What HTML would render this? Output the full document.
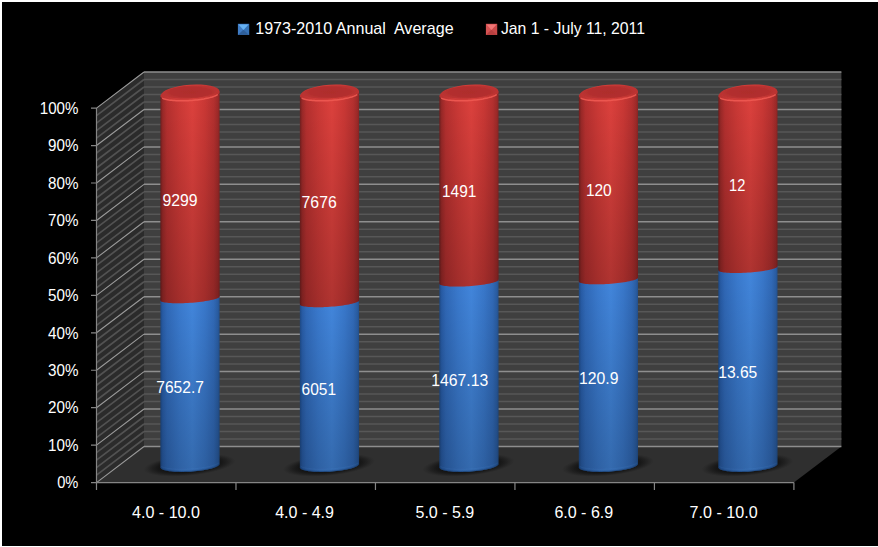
<!DOCTYPE html>
<html><head><meta charset="utf-8"><title>chart</title>
<style>
html,body{margin:0;padding:0;background:#000;}
body{width:878px;height:547px;overflow:hidden;position:relative;}
svg{position:absolute;left:0;top:0;display:block;}
text{font-family:"Liberation Sans",sans-serif;fill:#fff;}
</style></head><body>
<svg width="878" height="547" viewBox="0 0 878 547">
<defs>
<linearGradient id="gr" x1="0" x2="1" y1="0" y2="0"><stop offset="0" stop-color="#701f1f"/><stop offset="0.04" stop-color="#9a2928"/><stop offset="0.11" stop-color="#b5302f"/><stop offset="0.32" stop-color="#cc3936"/><stop offset="0.54" stop-color="#dd413d"/><stop offset="0.75" stop-color="#cb3835"/><stop offset="0.9" stop-color="#b5302f"/><stop offset="0.97" stop-color="#9e2a29"/><stop offset="1" stop-color="#882524"/></linearGradient>
<linearGradient id="gb" x1="0" x2="1" y1="0" y2="0"><stop offset="0" stop-color="#1e4a86"/><stop offset="0.04" stop-color="#285ca6"/><stop offset="0.11" stop-color="#3069b8"/><stop offset="0.32" stop-color="#3a7ace"/><stop offset="0.54" stop-color="#4286dc"/><stop offset="0.75" stop-color="#3978cb"/><stop offset="0.9" stop-color="#316ab8"/><stop offset="0.97" stop-color="#2a5da2"/><stop offset="1" stop-color="#23518e"/></linearGradient>
<linearGradient id="gv" x1="0" x2="0" y1="0" y2="1"><stop offset="0" stop-color="#000" stop-opacity="0"/><stop offset="1" stop-color="#000" stop-opacity="0.21"/></linearGradient>
<radialGradient id="gtop" cx="0.5" cy="0.5" r="0.5"><stop offset="0" stop-color="#ae2d2c"/><stop offset="0.8" stop-color="#b32f2e"/><stop offset="1" stop-color="#bb3331"/></radialGradient>
<linearGradient id="gtopo" x1="0" x2="1" y1="0" y2="0"><stop offset="0" stop-color="#b83130"/><stop offset="0.25" stop-color="#cc3a37"/><stop offset="0.6" stop-color="#d23d39"/><stop offset="1" stop-color="#b93230"/></linearGradient>
<filter id="b0" x="-20%" y="-20%" width="140%" height="140%"><feGaussianBlur stdDeviation="0.45"/></filter>
<filter id="b1" x="-10%" y="-50%" width="120%" height="200%"><feGaussianBlur stdDeviation="0.7"/></filter>
<radialGradient id="gsh" cx="0.5" cy="0.5" r="0.5"><stop offset="0" stop-color="#080808" stop-opacity="0.75"/><stop offset="0.62" stop-color="#080808" stop-opacity="0.7"/><stop offset="0.72" stop-color="#080808" stop-opacity="0.56"/><stop offset="0.82" stop-color="#080808" stop-opacity="0.36"/><stop offset="0.92" stop-color="#080808" stop-opacity="0.13"/><stop offset="1" stop-color="#080808" stop-opacity="0"/></radialGradient>
<linearGradient id="lgb" x1="0" x2="0" y1="0" y2="1"><stop offset="0" stop-color="#5b9be0"/><stop offset="1" stop-color="#2f66b3"/></linearGradient>
<linearGradient id="lgr" x1="0" x2="0" y1="0" y2="1"><stop offset="0" stop-color="#e0605c"/><stop offset="1" stop-color="#a83230"/></linearGradient>
</defs>
<rect x="0" y="0" width="878" height="2" fill="#fff"/>
<rect x="0" y="0" width="2" height="547" fill="#fff"/>
<rect x="0" y="546" width="878" height="1" fill="#fff"/>
<g id="walls">
<rect x="144" y="72" width="697.4" height="374.5" fill="#3f3f3f"/>
<polygon points="96.5,108.1 144,72 144,446.5 96.5,482.6" fill="#2b2b2b"/>
<polygon points="96.5,482.6 144,446.5 841.4,446.5 793.9,482.6" fill="#2f2f2f"/>
<path d="M144 79.49H841.4M144 86.98H841.4M144 94.47H841.4M144 101.96H841.4M144 116.94H841.4M144 124.43H841.4M144 131.92H841.4M144 139.41H841.4M144 154.39H841.4M144 161.88H841.4M144 169.37H841.4M144 176.86H841.4M144 191.84H841.4M144 199.33H841.4M144 206.82H841.4M144 214.31H841.4M144 229.29H841.4M144 236.78H841.4M144 244.27H841.4M144 251.76H841.4M144 266.74H841.4M144 274.23H841.4M144 281.72H841.4M144 289.21H841.4M144 304.19H841.4M144 311.68H841.4M144 319.17H841.4M144 326.66H841.4M144 341.64H841.4M144 349.13H841.4M144 356.62H841.4M144 364.11H841.4M144 379.09H841.4M144 386.58H841.4M144 394.07H841.4M144 401.56H841.4M144 416.54H841.4M144 424.03H841.4M144 431.52H841.4M144 439.01H841.4" stroke="#575757" stroke-width="1.5" fill="none"/>
<path d="M96.5 115.59L144 79.49M96.5 123.08L144 86.98M96.5 130.57L144 94.47M96.5 138.06L144 101.96M96.5 153.04L144 116.94M96.5 160.53L144 124.43M96.5 168.02L144 131.92M96.5 175.51L144 139.41M96.5 190.49L144 154.39M96.5 197.98L144 161.88M96.5 205.47L144 169.37M96.5 212.96L144 176.86M96.5 227.94L144 191.84M96.5 235.43L144 199.33M96.5 242.92L144 206.82M96.5 250.41L144 214.31M96.5 265.39L144 229.29M96.5 272.88L144 236.78M96.5 280.37L144 244.27M96.5 287.86L144 251.76M96.5 302.84L144 266.74M96.5 310.33L144 274.23M96.5 317.82L144 281.72M96.5 325.31L144 289.21M96.5 340.29L144 304.19M96.5 347.78L144 311.68M96.5 355.27L144 319.17M96.5 362.76L144 326.66M96.5 377.74L144 341.64M96.5 385.23L144 349.13M96.5 392.72L144 356.62M96.5 400.21L144 364.11M96.5 415.19L144 379.09M96.5 422.68L144 386.58M96.5 430.17L144 394.07M96.5 437.66L144 401.56M96.5 452.64L144 416.54M96.5 460.13L144 424.03M96.5 467.62L144 431.52M96.5 475.11L144 439.01" stroke="#525252" stroke-width="1.7" fill="none"/>
<path d="M144 72H841.4M144 109.45H841.4M144 146.9H841.4M144 184.35H841.4M144 221.8H841.4M144 259.25H841.4M144 296.7H841.4M144 334.15H841.4M144 371.6H841.4M144 409.05H841.4M144 446.5H841.4" stroke="#8e8e8e" stroke-width="1.5" fill="none"/>
<path d="M96.5 108.1L144 72M96.5 145.55L144 109.45M96.5 183L144 146.9M96.5 220.45L144 184.35M96.5 257.9L144 221.8M96.5 295.35L144 259.25M96.5 332.8L144 296.7M96.5 370.25L144 334.15M96.5 407.7L144 371.6M96.5 445.15L144 409.05M96.5 482.6L144 446.5" stroke="#9a9a9a" stroke-width="1.1" fill="none"/>
</g>
<g id="axes" stroke="#858585" stroke-width="1.2" fill="none">
<path d="M96.5 108.1V489.9"/>
<path d="M91 482.6H793.9"/>
<path d="M91 108.1H96.5M91 145.55H96.5M91 183H96.5M91 220.45H96.5M91 257.9H96.5M91 295.35H96.5M91 332.8H96.5M91 370.25H96.5M91 407.7H96.5M91 445.15H96.5M235.98 482.6V489.9M375.46 482.6V489.9M514.94 482.6V489.9M654.42 482.6V489.9M793.9 482.6V489.9"/>
</g>
<g id="shadows">
<circle r="1" fill="url(#gsh)" transform="matrix(42.74 0 17 -11.5 189.49 465.2)"/>
<circle r="1" fill="url(#gsh)" transform="matrix(42.74 0 17 -11.5 328.97 465.2)"/>
<circle r="1" fill="url(#gsh)" transform="matrix(42.74 0 17 -11.5 468.45 465.2)"/>
<circle r="1" fill="url(#gsh)" transform="matrix(42.74 0 17 -11.5 607.93 465.2)"/>
<circle r="1" fill="url(#gsh)" transform="matrix(42.74 0 17 -11.5 747.41 465.2)"/>
</g>
<g id="cyls">
<path d="M160.39 467.37 L160.48 467.84 L160.75 468.29 L161.21 468.73 L161.84 469.15 L162.64 469.55 L163.62 469.92 L164.75 470.27 L166.04 470.58 L167.48 470.87 L169.06 471.13 L170.77 471.35 L172.59 471.53 L174.52 471.68 L176.55 471.79 L178.66 471.86 L180.84 471.9 L183.08 471.89 L185.36 471.85 L187.67 471.77 L189.99 471.65 L192.31 471.49 L194.62 471.3 L196.9 471.07 L199.14 470.81 L201.32 470.51 L203.43 470.19 L205.46 469.83 L207.39 469.45 L209.21 469.05 L210.92 468.63 L212.5 468.18 L213.94 467.73 L215.23 467.25 L216.36 466.77 L217.34 466.28 L218.14 465.79 L218.77 465.29 L219.23 464.8 L219.5 464.31 L219.59 463.83 L219.59 295.24 L219.5 295.59 L219.23 295.95 L218.77 296.31 L218.14 296.69 L217.34 297.06 L216.36 297.44 L215.23 297.82 L213.94 298.19 L212.5 298.55 L210.92 298.91 L209.21 299.26 L207.39 299.59 L205.46 299.92 L203.43 300.22 L201.32 300.51 L199.14 300.77 L196.9 301.01 L194.62 301.24 L192.31 301.43 L189.99 301.6 L187.67 301.74 L185.36 301.86 L183.08 301.95 L180.84 302 L178.66 302.03 L176.55 302.03 L174.52 302 L172.59 301.94 L170.77 301.85 L169.06 301.73 L167.48 301.59 L166.04 301.42 L164.75 301.22 L163.62 300.99 L162.64 300.75 L161.84 300.48 L161.21 300.19 L160.75 299.89 L160.48 299.57 L160.39 299.23Z" fill="url(#gb)"/>
<path d="M160.39 467.37 L160.48 467.84 L160.75 468.29 L161.21 468.73 L161.84 469.15 L162.64 469.55 L163.62 469.92 L164.75 470.27 L166.04 470.58 L167.48 470.87 L169.06 471.13 L170.77 471.35 L172.59 471.53 L174.52 471.68 L176.55 471.79 L178.66 471.86 L180.84 471.9 L183.08 471.89 L185.36 471.85 L187.67 471.77 L189.99 471.65 L192.31 471.49 L194.62 471.3 L196.9 471.07 L199.14 470.81 L201.32 470.51 L203.43 470.19 L205.46 469.83 L207.39 469.45 L209.21 469.05 L210.92 468.63 L212.5 468.18 L213.94 467.73 L215.23 467.25 L216.36 466.77 L217.34 466.28 L218.14 465.79 L218.77 465.29 L219.23 464.8 L219.5 464.31 L219.59 463.83 L219.59 295.24 L219.5 295.59 L219.23 295.95 L218.77 296.31 L218.14 296.69 L217.34 297.06 L216.36 297.44 L215.23 297.82 L213.94 298.19 L212.5 298.55 L210.92 298.91 L209.21 299.26 L207.39 299.59 L205.46 299.92 L203.43 300.22 L201.32 300.51 L199.14 300.77 L196.9 301.01 L194.62 301.24 L192.31 301.43 L189.99 301.6 L187.67 301.74 L185.36 301.86 L183.08 301.95 L180.84 302 L178.66 302.03 L176.55 302.03 L174.52 302 L172.59 301.94 L170.77 301.85 L169.06 301.73 L167.48 301.59 L166.04 301.42 L164.75 301.22 L163.62 300.99 L162.64 300.75 L161.84 300.48 L161.21 300.19 L160.75 299.89 L160.48 299.57 L160.39 299.23Z" fill="url(#gv)"/>
<ellipse cx="190.29" cy="93.3" rx="29.3" ry="8.6" fill="url(#gtopo)" transform="rotate(-4 189.99 93.3)"/>
<path d="M160.39 300.43 L160.48 300.77 L160.75 301.09 L161.21 301.39 L161.84 301.68 L162.64 301.95 L163.62 302.19 L164.75 302.42 L166.04 302.62 L167.48 302.79 L169.06 302.93 L170.77 303.05 L172.59 303.14 L174.52 303.2 L176.55 303.23 L178.66 303.23 L180.84 303.2 L183.08 303.15 L185.36 303.06 L187.67 302.94 L189.99 302.8 L192.31 302.63 L194.62 302.44 L196.9 302.21 L199.14 301.97 L201.32 301.71 L203.43 301.42 L205.46 301.12 L207.39 300.79 L209.21 300.46 L210.92 300.11 L212.5 299.75 L213.94 299.39 L215.23 299.02 L216.36 298.64 L217.34 298.26 L218.14 297.89 L218.77 297.51 L219.23 297.15 L219.5 296.79 L219.59 296.44 L219.59 92.22 L219.5 92.73 L219.23 93.25 L218.77 93.77 L218.14 94.3 L217.34 94.83 L216.36 95.35 L215.23 95.86 L213.94 96.36 L212.5 96.85 L210.92 97.32 L209.21 97.77 L207.39 98.2 L205.46 98.6 L203.43 98.98 L201.32 99.32 L199.14 99.64 L196.9 99.91 L194.62 100.16 L192.31 100.36 L189.99 100.53 L187.67 100.66 L185.36 100.75 L183.08 100.79 L180.84 100.8 L178.66 100.76 L176.55 100.68 L174.52 100.57 L172.59 100.41 L170.77 100.21 L169.06 99.98 L167.48 99.71 L166.04 99.4 L164.75 99.06 L163.62 98.69 L162.64 98.3 L161.84 97.87 L161.21 97.43 L160.75 96.96 L160.48 96.48 L160.39 95.98Z" fill="url(#gr)"/>
<path d="M160.39 300.43 L160.48 300.77 L160.75 301.09 L161.21 301.39 L161.84 301.68 L162.64 301.95 L163.62 302.19 L164.75 302.42 L166.04 302.62 L167.48 302.79 L169.06 302.93 L170.77 303.05 L172.59 303.14 L174.52 303.2 L176.55 303.23 L178.66 303.23 L180.84 303.2 L183.08 303.15 L185.36 303.06 L187.67 302.94 L189.99 302.8 L192.31 302.63 L194.62 302.44 L196.9 302.21 L199.14 301.97 L201.32 301.71 L203.43 301.42 L205.46 301.12 L207.39 300.79 L209.21 300.46 L210.92 300.11 L212.5 299.75 L213.94 299.39 L215.23 299.02 L216.36 298.64 L217.34 298.26 L218.14 297.89 L218.77 297.51 L219.23 297.15 L219.5 296.79 L219.59 296.44 L219.59 92.22 L219.5 92.73 L219.23 93.25 L218.77 93.77 L218.14 94.3 L217.34 94.83 L216.36 95.35 L215.23 95.86 L213.94 96.36 L212.5 96.85 L210.92 97.32 L209.21 97.77 L207.39 98.2 L205.46 98.6 L203.43 98.98 L201.32 99.32 L199.14 99.64 L196.9 99.91 L194.62 100.16 L192.31 100.36 L189.99 100.53 L187.67 100.66 L185.36 100.75 L183.08 100.79 L180.84 100.8 L178.66 100.76 L176.55 100.68 L174.52 100.57 L172.59 100.41 L170.77 100.21 L169.06 99.98 L167.48 99.71 L166.04 99.4 L164.75 99.06 L163.62 98.69 L162.64 98.3 L161.84 97.87 L161.21 97.43 L160.75 96.96 L160.48 96.48 L160.39 95.98Z" fill="url(#gv)"/>
<path d="M218.4 94.1 L219.02 93.49 L219.41 92.88 L219.58 92.29 L219.53 91.71 L219.25 91.14 L218.75 90.6 L218.02 90.08 L217.09 89.6 L215.95 89.15 L214.61 88.74 L213.09 88.37 L211.38 88.04 L209.52 87.76 L207.51 87.52 L205.36 87.34 L203.1 87.21 L200.73 87.13 L198.29 87.1 L195.78 87.13 L193.23 87.21 L190.65 87.34 L188.07 87.52 L185.5 87.76 L182.97 88.04 L180.49 88.37 L178.08 88.74 L175.77 89.15 L173.56 89.6 L171.48 90.08 L169.53 90.6 L167.75 91.14 L166.13 91.71 L164.69 92.29 L163.45 92.88 L162.41 93.49 L161.58 94.1 L160.96 94.68 L160.57 95.26 L160.4 95.83 L160.45 96.39 L160.73 96.93 L161.23 97.45 L161.96 97.94 L162.89 98.41 L164.03 98.84 L165.37 99.23 L166.89 99.59 L168.6 99.9 L170.46 100.17 L172.47 100.4 L174.62 100.57 L176.88 100.7 L179.25 100.77 L181.69 100.8 L184.2 100.77 L186.75 100.7 L189.33 100.57 L191.91 100.4 L194.48 100.17 L197.01 99.9 L199.49 99.59 L201.9 99.23 L204.21 98.84 L206.42 98.41 L208.5 97.94 L210.45 97.45 L212.23 96.93 L213.85 96.39 L215.29 95.83 L216.53 95.26 L217.57 94.68 L218.4 94.1Z" fill="url(#gtopo)"/>
<path d="M216.3 92 L216.73 91.43 L216.95 90.87 L216.97 90.32 L216.79 89.78 L216.41 89.25 L215.83 88.75 L215.06 88.27 L214.1 87.82 L212.96 87.4 L211.64 87.02 L210.17 86.68 L208.54 86.37 L206.78 86.11 L204.89 85.89 L202.89 85.72 L200.8 85.6 L198.63 85.52 L196.39 85.5 L194.11 85.52 L191.8 85.6 L189.48 85.72 L187.16 85.89 L184.88 86.11 L182.63 86.37 L180.44 86.68 L178.33 87.02 L176.31 87.4 L174.4 87.82 L172.6 88.27 L170.95 88.75 L169.44 89.25 L168.09 89.78 L166.91 90.32 L165.91 90.87 L165.1 91.43 L164.48 92 L164.05 92.57 L163.83 93.13 L163.81 93.68 L163.99 94.22 L164.37 94.75 L164.95 95.25 L165.72 95.73 L166.68 96.18 L167.82 96.6 L169.14 96.98 L170.61 97.32 L172.24 97.63 L174 97.89 L175.89 98.11 L177.89 98.28 L179.98 98.4 L182.15 98.48 L184.39 98.5 L186.67 98.48 L188.98 98.4 L191.3 98.28 L193.62 98.11 L195.9 97.89 L198.15 97.63 L200.34 97.32 L202.45 96.98 L204.47 96.6 L206.38 96.18 L208.18 95.73 L209.83 95.25 L211.34 94.75 L212.69 94.22 L213.87 93.68 L214.87 93.13 L215.68 92.57 L216.3 92Z" fill="url(#gtop)" filter="url(#b1)"/>
<path d="M162.18 98.07 L162.86 98.39 L163.63 98.7 L164.5 98.99 L165.46 99.26 L166.52 99.51 L167.66 99.74 L168.89 99.95 L170.2 100.14 L171.58 100.3 L173.02 100.45 L174.53 100.57 L176.1 100.66 L177.72 100.73 L179.39 100.78 L181.1 100.8 L182.83 100.79 L184.6 100.77 L186.39 100.71 L188.18 100.63 L189.99 100.53 L191.8 100.4 L193.59 100.25 L195.38 100.08 L197.15 99.89 L198.88 99.67 L200.59 99.43 L202.26 99.17 L203.88 98.9 L205.45 98.6 L206.96 98.29 L208.4 97.97 L209.78 97.63 L211.09 97.27 L212.32 96.91 L213.46 96.53 L214.52 96.14 L215.48 95.75 L216.35 95.35 L217.12 94.95 L217.8 94.54" fill="none" stroke="#f05a52" stroke-width="1.5" stroke-opacity="0.9" filter="url(#b1)"/>
<path d="M160.54 467.56 L160.83 467.98 L161.29 468.39 L161.9 468.78 L162.66 469.15 L163.57 469.5 L164.62 469.83 L165.81 470.13 L167.13 470.41 L168.57 470.65 L170.13 470.87 L171.8 471.06 L173.56 471.21 L175.42 471.33 L177.35 471.42 L179.35 471.48 L181.41 471.5 L183.51 471.49 L185.65 471.44 L187.82 471.36 L189.99 471.25 L192.16 471.1 L194.33 470.92 L196.47 470.71 L198.57 470.48 L200.63 470.21 L202.63 469.91 L204.56 469.59 L206.42 469.25 L208.18 468.88 L209.85 468.5 L211.41 468.1 L212.85 467.68 L214.17 467.24 L215.36 466.8 L216.41 466.35 L217.32 465.89 L218.08 465.43 L218.69 464.97 L219.15 464.5 L219.44 464.05" fill="none" stroke="#173c6e" stroke-width="1" stroke-opacity="0.55"/>
<path d="M161.31 466.21 L161.86 466.56 L162.52 466.89 L163.31 467.21 L164.22 467.51 L165.23 467.79 L166.36 468.05 L167.59 468.29 L168.91 468.5 L170.33 468.69 L171.83 468.86 L173.41 469 L175.07 469.11 L176.79 469.2 L178.57 469.26 L180.39 469.29 L182.26 469.3 L184.16 469.28 L186.09 469.23 L188.04 469.15 L189.99 469.05 L191.94 468.92 L193.89 468.76 L195.82 468.58 L197.72 468.38 L199.59 468.15 L201.41 467.9 L203.19 467.62 L204.91 467.33 L206.57 467.02 L208.15 466.69 L209.65 466.35 L211.07 465.99 L212.39 465.62 L213.62 465.23 L214.75 464.84 L215.76 464.44 L216.67 464.03 L217.46 463.62 L218.12 463.2 L218.67 462.78" fill="none" stroke="#4f93e6" stroke-width="1.1" stroke-opacity="0.1" filter="url(#b1)"/>
<path d="M299.87 467.37 L299.96 467.84 L300.23 468.29 L300.69 468.73 L301.32 469.15 L302.12 469.55 L303.1 469.92 L304.23 470.27 L305.52 470.58 L306.96 470.87 L308.54 471.13 L310.25 471.35 L312.07 471.53 L314 471.68 L316.03 471.79 L318.14 471.86 L320.32 471.9 L322.56 471.89 L324.84 471.85 L327.15 471.77 L329.47 471.65 L331.79 471.49 L334.1 471.3 L336.38 471.07 L338.62 470.81 L340.8 470.51 L342.91 470.19 L344.94 469.83 L346.87 469.45 L348.69 469.05 L350.4 468.63 L351.98 468.18 L353.42 467.73 L354.71 467.25 L355.84 466.77 L356.82 466.28 L357.62 465.79 L358.25 465.29 L358.71 464.8 L358.98 464.31 L359.07 463.83 L359.07 299.22 L358.98 299.57 L358.71 299.93 L358.25 300.3 L357.62 300.67 L356.82 301.04 L355.84 301.42 L354.71 301.8 L353.42 302.17 L351.98 302.54 L350.4 302.89 L348.69 303.24 L346.87 303.58 L344.94 303.9 L342.91 304.2 L340.8 304.49 L338.62 304.75 L336.38 305 L334.1 305.22 L331.79 305.41 L329.47 305.58 L327.15 305.73 L324.84 305.84 L322.56 305.93 L320.32 305.99 L318.14 306.01 L316.03 306.01 L314 305.98 L312.07 305.92 L310.25 305.83 L308.54 305.71 L306.96 305.57 L305.52 305.4 L304.23 305.2 L303.1 304.98 L302.12 304.73 L301.32 304.46 L300.69 304.18 L300.23 303.87 L299.96 303.55 L299.87 303.21Z" fill="url(#gb)"/>
<path d="M299.87 467.37 L299.96 467.84 L300.23 468.29 L300.69 468.73 L301.32 469.15 L302.12 469.55 L303.1 469.92 L304.23 470.27 L305.52 470.58 L306.96 470.87 L308.54 471.13 L310.25 471.35 L312.07 471.53 L314 471.68 L316.03 471.79 L318.14 471.86 L320.32 471.9 L322.56 471.89 L324.84 471.85 L327.15 471.77 L329.47 471.65 L331.79 471.49 L334.1 471.3 L336.38 471.07 L338.62 470.81 L340.8 470.51 L342.91 470.19 L344.94 469.83 L346.87 469.45 L348.69 469.05 L350.4 468.63 L351.98 468.18 L353.42 467.73 L354.71 467.25 L355.84 466.77 L356.82 466.28 L357.62 465.79 L358.25 465.29 L358.71 464.8 L358.98 464.31 L359.07 463.83 L359.07 299.22 L358.98 299.57 L358.71 299.93 L358.25 300.3 L357.62 300.67 L356.82 301.04 L355.84 301.42 L354.71 301.8 L353.42 302.17 L351.98 302.54 L350.4 302.89 L348.69 303.24 L346.87 303.58 L344.94 303.9 L342.91 304.2 L340.8 304.49 L338.62 304.75 L336.38 305 L334.1 305.22 L331.79 305.41 L329.47 305.58 L327.15 305.73 L324.84 305.84 L322.56 305.93 L320.32 305.99 L318.14 306.01 L316.03 306.01 L314 305.98 L312.07 305.92 L310.25 305.83 L308.54 305.71 L306.96 305.57 L305.52 305.4 L304.23 305.2 L303.1 304.98 L302.12 304.73 L301.32 304.46 L300.69 304.18 L300.23 303.87 L299.96 303.55 L299.87 303.21Z" fill="url(#gv)"/>
<ellipse cx="329.77" cy="93.3" rx="29.3" ry="8.6" fill="url(#gtopo)" transform="rotate(-4 329.47 93.3)"/>
<path d="M299.87 304.41 L299.96 304.75 L300.23 305.07 L300.69 305.38 L301.32 305.66 L302.12 305.93 L303.1 306.18 L304.23 306.4 L305.52 306.6 L306.96 306.77 L308.54 306.91 L310.25 307.03 L312.07 307.12 L314 307.18 L316.03 307.21 L318.14 307.21 L320.32 307.19 L322.56 307.13 L324.84 307.04 L327.15 306.93 L329.47 306.78 L331.79 306.61 L334.1 306.42 L336.38 306.2 L338.62 305.95 L340.8 305.69 L342.91 305.4 L344.94 305.1 L346.87 304.78 L348.69 304.44 L350.4 304.09 L351.98 303.74 L353.42 303.37 L354.71 303 L355.84 302.62 L356.82 302.24 L357.62 301.87 L358.25 301.5 L358.71 301.13 L358.98 300.77 L359.07 300.42 L359.07 92.22 L358.98 92.73 L358.71 93.25 L358.25 93.77 L357.62 94.3 L356.82 94.83 L355.84 95.35 L354.71 95.86 L353.42 96.36 L351.98 96.85 L350.4 97.32 L348.69 97.77 L346.87 98.2 L344.94 98.6 L342.91 98.98 L340.8 99.32 L338.62 99.64 L336.38 99.91 L334.1 100.16 L331.79 100.36 L329.47 100.53 L327.15 100.66 L324.84 100.75 L322.56 100.79 L320.32 100.8 L318.14 100.76 L316.03 100.68 L314 100.57 L312.07 100.41 L310.25 100.21 L308.54 99.98 L306.96 99.71 L305.52 99.4 L304.23 99.06 L303.1 98.69 L302.12 98.3 L301.32 97.87 L300.69 97.43 L300.23 96.96 L299.96 96.48 L299.87 95.98Z" fill="url(#gr)"/>
<path d="M299.87 304.41 L299.96 304.75 L300.23 305.07 L300.69 305.38 L301.32 305.66 L302.12 305.93 L303.1 306.18 L304.23 306.4 L305.52 306.6 L306.96 306.77 L308.54 306.91 L310.25 307.03 L312.07 307.12 L314 307.18 L316.03 307.21 L318.14 307.21 L320.32 307.19 L322.56 307.13 L324.84 307.04 L327.15 306.93 L329.47 306.78 L331.79 306.61 L334.1 306.42 L336.38 306.2 L338.62 305.95 L340.8 305.69 L342.91 305.4 L344.94 305.1 L346.87 304.78 L348.69 304.44 L350.4 304.09 L351.98 303.74 L353.42 303.37 L354.71 303 L355.84 302.62 L356.82 302.24 L357.62 301.87 L358.25 301.5 L358.71 301.13 L358.98 300.77 L359.07 300.42 L359.07 92.22 L358.98 92.73 L358.71 93.25 L358.25 93.77 L357.62 94.3 L356.82 94.83 L355.84 95.35 L354.71 95.86 L353.42 96.36 L351.98 96.85 L350.4 97.32 L348.69 97.77 L346.87 98.2 L344.94 98.6 L342.91 98.98 L340.8 99.32 L338.62 99.64 L336.38 99.91 L334.1 100.16 L331.79 100.36 L329.47 100.53 L327.15 100.66 L324.84 100.75 L322.56 100.79 L320.32 100.8 L318.14 100.76 L316.03 100.68 L314 100.57 L312.07 100.41 L310.25 100.21 L308.54 99.98 L306.96 99.71 L305.52 99.4 L304.23 99.06 L303.1 98.69 L302.12 98.3 L301.32 97.87 L300.69 97.43 L300.23 96.96 L299.96 96.48 L299.87 95.98Z" fill="url(#gv)"/>
<path d="M357.88 94.1 L358.5 93.49 L358.89 92.88 L359.06 92.29 L359.01 91.71 L358.73 91.14 L358.23 90.6 L357.5 90.08 L356.57 89.6 L355.43 89.15 L354.09 88.74 L352.57 88.37 L350.86 88.04 L349 87.76 L346.99 87.52 L344.84 87.34 L342.58 87.21 L340.21 87.13 L337.77 87.1 L335.26 87.13 L332.71 87.21 L330.13 87.34 L327.55 87.52 L324.98 87.76 L322.45 88.04 L319.97 88.37 L317.56 88.74 L315.25 89.15 L313.04 89.6 L310.96 90.08 L309.01 90.6 L307.23 91.14 L305.61 91.71 L304.17 92.29 L302.93 92.88 L301.89 93.49 L301.06 94.1 L300.44 94.68 L300.05 95.26 L299.88 95.83 L299.93 96.39 L300.21 96.93 L300.71 97.45 L301.44 97.94 L302.37 98.41 L303.51 98.84 L304.85 99.23 L306.37 99.59 L308.08 99.9 L309.94 100.17 L311.95 100.4 L314.1 100.57 L316.36 100.7 L318.73 100.77 L321.17 100.8 L323.68 100.77 L326.23 100.7 L328.81 100.57 L331.39 100.4 L333.96 100.17 L336.49 99.9 L338.97 99.59 L341.38 99.23 L343.69 98.84 L345.9 98.41 L347.98 97.94 L349.93 97.45 L351.71 96.93 L353.33 96.39 L354.77 95.83 L356.01 95.26 L357.05 94.68 L357.88 94.1Z" fill="url(#gtopo)"/>
<path d="M355.78 92 L356.21 91.43 L356.43 90.87 L356.45 90.32 L356.27 89.78 L355.89 89.25 L355.31 88.75 L354.54 88.27 L353.58 87.82 L352.44 87.4 L351.12 87.02 L349.65 86.68 L348.02 86.37 L346.26 86.11 L344.37 85.89 L342.37 85.72 L340.28 85.6 L338.11 85.52 L335.87 85.5 L333.59 85.52 L331.28 85.6 L328.96 85.72 L326.64 85.89 L324.36 86.11 L322.11 86.37 L319.92 86.68 L317.81 87.02 L315.79 87.4 L313.88 87.82 L312.08 88.27 L310.43 88.75 L308.92 89.25 L307.57 89.78 L306.39 90.32 L305.39 90.87 L304.58 91.43 L303.96 92 L303.53 92.57 L303.31 93.13 L303.29 93.68 L303.47 94.22 L303.85 94.75 L304.43 95.25 L305.2 95.73 L306.16 96.18 L307.3 96.6 L308.62 96.98 L310.09 97.32 L311.72 97.63 L313.48 97.89 L315.37 98.11 L317.37 98.28 L319.46 98.4 L321.63 98.48 L323.87 98.5 L326.15 98.48 L328.46 98.4 L330.78 98.28 L333.1 98.11 L335.38 97.89 L337.63 97.63 L339.82 97.32 L341.93 96.98 L343.95 96.6 L345.86 96.18 L347.66 95.73 L349.31 95.25 L350.82 94.75 L352.17 94.22 L353.35 93.68 L354.35 93.13 L355.16 92.57 L355.78 92Z" fill="url(#gtop)" filter="url(#b1)"/>
<path d="M301.66 98.07 L302.34 98.39 L303.11 98.7 L303.98 98.99 L304.94 99.26 L306 99.51 L307.14 99.74 L308.37 99.95 L309.68 100.14 L311.06 100.3 L312.5 100.45 L314.01 100.57 L315.58 100.66 L317.2 100.73 L318.87 100.78 L320.58 100.8 L322.31 100.79 L324.08 100.77 L325.87 100.71 L327.66 100.63 L329.47 100.53 L331.28 100.4 L333.07 100.25 L334.86 100.08 L336.63 99.89 L338.36 99.67 L340.07 99.43 L341.74 99.17 L343.36 98.9 L344.93 98.6 L346.44 98.29 L347.88 97.97 L349.26 97.63 L350.57 97.27 L351.8 96.91 L352.94 96.53 L354 96.14 L354.96 95.75 L355.83 95.35 L356.6 94.95 L357.28 94.54" fill="none" stroke="#f05a52" stroke-width="1.5" stroke-opacity="0.9" filter="url(#b1)"/>
<path d="M300.02 467.56 L300.31 467.98 L300.77 468.39 L301.38 468.78 L302.14 469.15 L303.05 469.5 L304.1 469.83 L305.29 470.13 L306.61 470.41 L308.05 470.65 L309.61 470.87 L311.28 471.06 L313.04 471.21 L314.9 471.33 L316.83 471.42 L318.83 471.48 L320.89 471.5 L322.99 471.49 L325.13 471.44 L327.3 471.36 L329.47 471.25 L331.64 471.1 L333.81 470.92 L335.95 470.71 L338.05 470.48 L340.11 470.21 L342.11 469.91 L344.04 469.59 L345.9 469.25 L347.66 468.88 L349.33 468.5 L350.89 468.1 L352.33 467.68 L353.65 467.24 L354.84 466.8 L355.89 466.35 L356.8 465.89 L357.56 465.43 L358.17 464.97 L358.63 464.5 L358.92 464.05" fill="none" stroke="#173c6e" stroke-width="1" stroke-opacity="0.55"/>
<path d="M300.79 466.21 L301.34 466.56 L302 466.89 L302.79 467.21 L303.7 467.51 L304.71 467.79 L305.84 468.05 L307.07 468.29 L308.39 468.5 L309.81 468.69 L311.31 468.86 L312.89 469 L314.55 469.11 L316.27 469.2 L318.05 469.26 L319.87 469.29 L321.74 469.3 L323.64 469.28 L325.57 469.23 L327.52 469.15 L329.47 469.05 L331.42 468.92 L333.37 468.76 L335.3 468.58 L337.2 468.38 L339.07 468.15 L340.89 467.9 L342.67 467.62 L344.39 467.33 L346.05 467.02 L347.63 466.69 L349.13 466.35 L350.55 465.99 L351.87 465.62 L353.1 465.23 L354.23 464.84 L355.24 464.44 L356.15 464.03 L356.94 463.62 L357.6 463.2 L358.15 462.78" fill="none" stroke="#4f93e6" stroke-width="1.1" stroke-opacity="0.1" filter="url(#b1)"/>
<path d="M439.35 467.37 L439.44 467.84 L439.71 468.29 L440.17 468.73 L440.8 469.15 L441.6 469.55 L442.58 469.92 L443.71 470.27 L445 470.58 L446.44 470.87 L448.02 471.13 L449.73 471.35 L451.55 471.53 L453.48 471.68 L455.51 471.79 L457.62 471.86 L459.8 471.9 L462.04 471.89 L464.32 471.85 L466.63 471.77 L468.95 471.65 L471.27 471.49 L473.58 471.3 L475.86 471.07 L478.1 470.81 L480.28 470.51 L482.39 470.19 L484.42 469.83 L486.35 469.45 L488.17 469.05 L489.88 468.63 L491.46 468.18 L492.9 467.73 L494.19 467.25 L495.32 466.77 L496.3 466.28 L497.1 465.79 L497.73 465.29 L498.19 464.8 L498.46 464.31 L498.55 463.83 L498.55 278.57 L498.46 278.92 L498.19 279.27 L497.73 279.64 L497.1 280.01 L496.3 280.39 L495.32 280.77 L494.19 281.14 L492.9 281.51 L491.46 281.88 L489.88 282.24 L488.17 282.59 L486.35 282.92 L484.42 283.24 L482.39 283.55 L480.28 283.83 L478.1 284.1 L475.86 284.34 L473.58 284.56 L471.27 284.76 L468.95 284.93 L466.63 285.07 L464.32 285.19 L462.04 285.27 L459.8 285.33 L457.62 285.36 L455.51 285.36 L453.48 285.33 L451.55 285.27 L449.73 285.18 L448.02 285.06 L446.44 284.91 L445 284.74 L443.71 284.54 L442.58 284.32 L441.6 284.07 L440.8 283.81 L440.17 283.52 L439.71 283.21 L439.44 282.89 L439.35 282.56Z" fill="url(#gb)"/>
<path d="M439.35 467.37 L439.44 467.84 L439.71 468.29 L440.17 468.73 L440.8 469.15 L441.6 469.55 L442.58 469.92 L443.71 470.27 L445 470.58 L446.44 470.87 L448.02 471.13 L449.73 471.35 L451.55 471.53 L453.48 471.68 L455.51 471.79 L457.62 471.86 L459.8 471.9 L462.04 471.89 L464.32 471.85 L466.63 471.77 L468.95 471.65 L471.27 471.49 L473.58 471.3 L475.86 471.07 L478.1 470.81 L480.28 470.51 L482.39 470.19 L484.42 469.83 L486.35 469.45 L488.17 469.05 L489.88 468.63 L491.46 468.18 L492.9 467.73 L494.19 467.25 L495.32 466.77 L496.3 466.28 L497.1 465.79 L497.73 465.29 L498.19 464.8 L498.46 464.31 L498.55 463.83 L498.55 278.57 L498.46 278.92 L498.19 279.27 L497.73 279.64 L497.1 280.01 L496.3 280.39 L495.32 280.77 L494.19 281.14 L492.9 281.51 L491.46 281.88 L489.88 282.24 L488.17 282.59 L486.35 282.92 L484.42 283.24 L482.39 283.55 L480.28 283.83 L478.1 284.1 L475.86 284.34 L473.58 284.56 L471.27 284.76 L468.95 284.93 L466.63 285.07 L464.32 285.19 L462.04 285.27 L459.8 285.33 L457.62 285.36 L455.51 285.36 L453.48 285.33 L451.55 285.27 L449.73 285.18 L448.02 285.06 L446.44 284.91 L445 284.74 L443.71 284.54 L442.58 284.32 L441.6 284.07 L440.8 283.81 L440.17 283.52 L439.71 283.21 L439.44 282.89 L439.35 282.56Z" fill="url(#gv)"/>
<ellipse cx="469.25" cy="93.3" rx="29.3" ry="8.6" fill="url(#gtopo)" transform="rotate(-4 468.95 93.3)"/>
<path d="M439.35 283.76 L439.44 284.09 L439.71 284.41 L440.17 284.72 L440.8 285.01 L441.6 285.27 L442.58 285.52 L443.71 285.74 L445 285.94 L446.44 286.11 L448.02 286.26 L449.73 286.38 L451.55 286.47 L453.48 286.53 L455.51 286.56 L457.62 286.56 L459.8 286.53 L462.04 286.47 L464.32 286.39 L466.63 286.27 L468.95 286.13 L471.27 285.96 L473.58 285.76 L475.86 285.54 L478.1 285.3 L480.28 285.03 L482.39 284.75 L484.42 284.44 L486.35 284.12 L488.17 283.79 L489.88 283.44 L491.46 283.08 L492.9 282.71 L494.19 282.34 L495.32 281.97 L496.3 281.59 L497.1 281.21 L497.73 280.84 L498.19 280.47 L498.46 280.12 L498.55 279.77 L498.55 92.22 L498.46 92.73 L498.19 93.25 L497.73 93.77 L497.1 94.3 L496.3 94.83 L495.32 95.35 L494.19 95.86 L492.9 96.36 L491.46 96.85 L489.88 97.32 L488.17 97.77 L486.35 98.2 L484.42 98.6 L482.39 98.98 L480.28 99.32 L478.1 99.64 L475.86 99.91 L473.58 100.16 L471.27 100.36 L468.95 100.53 L466.63 100.66 L464.32 100.75 L462.04 100.79 L459.8 100.8 L457.62 100.76 L455.51 100.68 L453.48 100.57 L451.55 100.41 L449.73 100.21 L448.02 99.98 L446.44 99.71 L445 99.4 L443.71 99.06 L442.58 98.69 L441.6 98.3 L440.8 97.87 L440.17 97.43 L439.71 96.96 L439.44 96.48 L439.35 95.98Z" fill="url(#gr)"/>
<path d="M439.35 283.76 L439.44 284.09 L439.71 284.41 L440.17 284.72 L440.8 285.01 L441.6 285.27 L442.58 285.52 L443.71 285.74 L445 285.94 L446.44 286.11 L448.02 286.26 L449.73 286.38 L451.55 286.47 L453.48 286.53 L455.51 286.56 L457.62 286.56 L459.8 286.53 L462.04 286.47 L464.32 286.39 L466.63 286.27 L468.95 286.13 L471.27 285.96 L473.58 285.76 L475.86 285.54 L478.1 285.3 L480.28 285.03 L482.39 284.75 L484.42 284.44 L486.35 284.12 L488.17 283.79 L489.88 283.44 L491.46 283.08 L492.9 282.71 L494.19 282.34 L495.32 281.97 L496.3 281.59 L497.1 281.21 L497.73 280.84 L498.19 280.47 L498.46 280.12 L498.55 279.77 L498.55 92.22 L498.46 92.73 L498.19 93.25 L497.73 93.77 L497.1 94.3 L496.3 94.83 L495.32 95.35 L494.19 95.86 L492.9 96.36 L491.46 96.85 L489.88 97.32 L488.17 97.77 L486.35 98.2 L484.42 98.6 L482.39 98.98 L480.28 99.32 L478.1 99.64 L475.86 99.91 L473.58 100.16 L471.27 100.36 L468.95 100.53 L466.63 100.66 L464.32 100.75 L462.04 100.79 L459.8 100.8 L457.62 100.76 L455.51 100.68 L453.48 100.57 L451.55 100.41 L449.73 100.21 L448.02 99.98 L446.44 99.71 L445 99.4 L443.71 99.06 L442.58 98.69 L441.6 98.3 L440.8 97.87 L440.17 97.43 L439.71 96.96 L439.44 96.48 L439.35 95.98Z" fill="url(#gv)"/>
<path d="M497.36 94.1 L497.98 93.49 L498.37 92.88 L498.54 92.29 L498.49 91.71 L498.21 91.14 L497.71 90.6 L496.98 90.08 L496.05 89.6 L494.91 89.15 L493.57 88.74 L492.05 88.37 L490.34 88.04 L488.48 87.76 L486.47 87.52 L484.32 87.34 L482.06 87.21 L479.69 87.13 L477.25 87.1 L474.74 87.13 L472.19 87.21 L469.61 87.34 L467.03 87.52 L464.46 87.76 L461.93 88.04 L459.45 88.37 L457.04 88.74 L454.73 89.15 L452.52 89.6 L450.44 90.08 L448.49 90.6 L446.71 91.14 L445.09 91.71 L443.65 92.29 L442.41 92.88 L441.37 93.49 L440.54 94.1 L439.92 94.68 L439.53 95.26 L439.36 95.83 L439.41 96.39 L439.69 96.93 L440.19 97.45 L440.92 97.94 L441.85 98.41 L442.99 98.84 L444.33 99.23 L445.85 99.59 L447.56 99.9 L449.42 100.17 L451.43 100.4 L453.58 100.57 L455.84 100.7 L458.21 100.77 L460.65 100.8 L463.16 100.77 L465.71 100.7 L468.29 100.57 L470.87 100.4 L473.44 100.17 L475.97 99.9 L478.45 99.59 L480.86 99.23 L483.17 98.84 L485.38 98.41 L487.46 97.94 L489.41 97.45 L491.19 96.93 L492.81 96.39 L494.25 95.83 L495.49 95.26 L496.53 94.68 L497.36 94.1Z" fill="url(#gtopo)"/>
<path d="M495.26 92 L495.69 91.43 L495.91 90.87 L495.93 90.32 L495.75 89.78 L495.37 89.25 L494.79 88.75 L494.02 88.27 L493.06 87.82 L491.92 87.4 L490.6 87.02 L489.13 86.68 L487.5 86.37 L485.74 86.11 L483.85 85.89 L481.85 85.72 L479.76 85.6 L477.59 85.52 L475.35 85.5 L473.07 85.52 L470.76 85.6 L468.44 85.72 L466.12 85.89 L463.84 86.11 L461.59 86.37 L459.4 86.68 L457.29 87.02 L455.27 87.4 L453.36 87.82 L451.56 88.27 L449.91 88.75 L448.4 89.25 L447.05 89.78 L445.87 90.32 L444.87 90.87 L444.06 91.43 L443.44 92 L443.01 92.57 L442.79 93.13 L442.77 93.68 L442.95 94.22 L443.33 94.75 L443.91 95.25 L444.68 95.73 L445.64 96.18 L446.78 96.6 L448.1 96.98 L449.57 97.32 L451.2 97.63 L452.96 97.89 L454.85 98.11 L456.85 98.28 L458.94 98.4 L461.11 98.48 L463.35 98.5 L465.63 98.48 L467.94 98.4 L470.26 98.28 L472.58 98.11 L474.86 97.89 L477.11 97.63 L479.3 97.32 L481.41 96.98 L483.43 96.6 L485.34 96.18 L487.14 95.73 L488.79 95.25 L490.3 94.75 L491.65 94.22 L492.83 93.68 L493.83 93.13 L494.64 92.57 L495.26 92Z" fill="url(#gtop)" filter="url(#b1)"/>
<path d="M441.14 98.07 L441.82 98.39 L442.59 98.7 L443.46 98.99 L444.42 99.26 L445.48 99.51 L446.62 99.74 L447.85 99.95 L449.16 100.14 L450.54 100.3 L451.98 100.45 L453.49 100.57 L455.06 100.66 L456.68 100.73 L458.35 100.78 L460.06 100.8 L461.79 100.79 L463.56 100.77 L465.35 100.71 L467.14 100.63 L468.95 100.53 L470.76 100.4 L472.55 100.25 L474.34 100.08 L476.11 99.89 L477.84 99.67 L479.55 99.43 L481.22 99.17 L482.84 98.9 L484.41 98.6 L485.92 98.29 L487.36 97.97 L488.74 97.63 L490.05 97.27 L491.28 96.91 L492.42 96.53 L493.48 96.14 L494.44 95.75 L495.31 95.35 L496.08 94.95 L496.76 94.54" fill="none" stroke="#f05a52" stroke-width="1.5" stroke-opacity="0.9" filter="url(#b1)"/>
<path d="M439.5 467.56 L439.79 467.98 L440.25 468.39 L440.86 468.78 L441.62 469.15 L442.53 469.5 L443.58 469.83 L444.77 470.13 L446.09 470.41 L447.53 470.65 L449.09 470.87 L450.76 471.06 L452.52 471.21 L454.38 471.33 L456.31 471.42 L458.31 471.48 L460.37 471.5 L462.47 471.49 L464.61 471.44 L466.78 471.36 L468.95 471.25 L471.12 471.1 L473.29 470.92 L475.43 470.71 L477.53 470.48 L479.59 470.21 L481.59 469.91 L483.52 469.59 L485.38 469.25 L487.14 468.88 L488.81 468.5 L490.37 468.1 L491.81 467.68 L493.13 467.24 L494.32 466.8 L495.37 466.35 L496.28 465.89 L497.04 465.43 L497.65 464.97 L498.11 464.5 L498.4 464.05" fill="none" stroke="#173c6e" stroke-width="1" stroke-opacity="0.55"/>
<path d="M440.27 466.21 L440.82 466.56 L441.48 466.89 L442.27 467.21 L443.18 467.51 L444.19 467.79 L445.32 468.05 L446.55 468.29 L447.87 468.5 L449.29 468.69 L450.79 468.86 L452.37 469 L454.03 469.11 L455.75 469.2 L457.53 469.26 L459.35 469.29 L461.22 469.3 L463.12 469.28 L465.05 469.23 L467 469.15 L468.95 469.05 L470.9 468.92 L472.85 468.76 L474.78 468.58 L476.68 468.38 L478.55 468.15 L480.37 467.9 L482.15 467.62 L483.87 467.33 L485.53 467.02 L487.11 466.69 L488.61 466.35 L490.03 465.99 L491.35 465.62 L492.58 465.23 L493.71 464.84 L494.72 464.44 L495.63 464.03 L496.42 463.62 L497.08 463.2 L497.63 462.78" fill="none" stroke="#4f93e6" stroke-width="1.1" stroke-opacity="0.1" filter="url(#b1)"/>
<path d="M578.83 467.37 L578.92 467.84 L579.19 468.29 L579.65 468.73 L580.28 469.15 L581.08 469.55 L582.06 469.92 L583.19 470.27 L584.48 470.58 L585.92 470.87 L587.5 471.13 L589.21 471.35 L591.03 471.53 L592.96 471.68 L594.99 471.79 L597.1 471.86 L599.28 471.9 L601.52 471.89 L603.8 471.85 L606.11 471.77 L608.43 471.65 L610.75 471.49 L613.06 471.3 L615.34 471.07 L617.58 470.81 L619.76 470.51 L621.87 470.19 L623.9 469.83 L625.83 469.45 L627.65 469.05 L629.36 468.63 L630.94 468.18 L632.38 467.73 L633.67 467.25 L634.8 466.77 L635.78 466.28 L636.58 465.79 L637.21 465.29 L637.67 464.8 L637.94 464.31 L638.03 463.83 L638.03 276.36 L637.94 276.7 L637.67 277.06 L637.21 277.43 L636.58 277.8 L635.78 278.18 L634.8 278.56 L633.67 278.93 L632.38 279.3 L630.94 279.67 L629.36 280.03 L627.65 280.37 L625.83 280.71 L623.9 281.03 L621.87 281.34 L619.76 281.62 L617.58 281.89 L615.34 282.13 L613.06 282.35 L610.75 282.55 L608.43 282.72 L606.11 282.86 L603.8 282.97 L601.52 283.06 L599.28 283.12 L597.1 283.15 L594.99 283.15 L592.96 283.12 L591.03 283.05 L589.21 282.97 L587.5 282.85 L585.92 282.7 L584.48 282.53 L583.19 282.33 L582.06 282.11 L581.08 281.86 L580.28 281.6 L579.65 281.31 L579.19 281 L578.92 280.68 L578.83 280.35Z" fill="url(#gb)"/>
<path d="M578.83 467.37 L578.92 467.84 L579.19 468.29 L579.65 468.73 L580.28 469.15 L581.08 469.55 L582.06 469.92 L583.19 470.27 L584.48 470.58 L585.92 470.87 L587.5 471.13 L589.21 471.35 L591.03 471.53 L592.96 471.68 L594.99 471.79 L597.1 471.86 L599.28 471.9 L601.52 471.89 L603.8 471.85 L606.11 471.77 L608.43 471.65 L610.75 471.49 L613.06 471.3 L615.34 471.07 L617.58 470.81 L619.76 470.51 L621.87 470.19 L623.9 469.83 L625.83 469.45 L627.65 469.05 L629.36 468.63 L630.94 468.18 L632.38 467.73 L633.67 467.25 L634.8 466.77 L635.78 466.28 L636.58 465.79 L637.21 465.29 L637.67 464.8 L637.94 464.31 L638.03 463.83 L638.03 276.36 L637.94 276.7 L637.67 277.06 L637.21 277.43 L636.58 277.8 L635.78 278.18 L634.8 278.56 L633.67 278.93 L632.38 279.3 L630.94 279.67 L629.36 280.03 L627.65 280.37 L625.83 280.71 L623.9 281.03 L621.87 281.34 L619.76 281.62 L617.58 281.89 L615.34 282.13 L613.06 282.35 L610.75 282.55 L608.43 282.72 L606.11 282.86 L603.8 282.97 L601.52 283.06 L599.28 283.12 L597.1 283.15 L594.99 283.15 L592.96 283.12 L591.03 283.05 L589.21 282.97 L587.5 282.85 L585.92 282.7 L584.48 282.53 L583.19 282.33 L582.06 282.11 L581.08 281.86 L580.28 281.6 L579.65 281.31 L579.19 281 L578.92 280.68 L578.83 280.35Z" fill="url(#gv)"/>
<ellipse cx="608.73" cy="93.3" rx="29.3" ry="8.6" fill="url(#gtopo)" transform="rotate(-4 608.43 93.3)"/>
<path d="M578.83 281.55 L578.92 281.88 L579.19 282.2 L579.65 282.51 L580.28 282.8 L581.08 283.06 L582.06 283.31 L583.19 283.53 L584.48 283.73 L585.92 283.9 L587.5 284.05 L589.21 284.17 L591.03 284.25 L592.96 284.32 L594.99 284.35 L597.1 284.35 L599.28 284.32 L601.52 284.26 L603.8 284.17 L606.11 284.06 L608.43 283.92 L610.75 283.75 L613.06 283.55 L615.34 283.33 L617.58 283.09 L619.76 282.82 L621.87 282.54 L623.9 282.23 L625.83 281.91 L627.65 281.57 L629.36 281.23 L630.94 280.87 L632.38 280.5 L633.67 280.13 L634.8 279.76 L635.78 279.38 L636.58 279 L637.21 278.63 L637.67 278.26 L637.94 277.9 L638.03 277.56 L638.03 92.22 L637.94 92.73 L637.67 93.25 L637.21 93.77 L636.58 94.3 L635.78 94.83 L634.8 95.35 L633.67 95.86 L632.38 96.36 L630.94 96.85 L629.36 97.32 L627.65 97.77 L625.83 98.2 L623.9 98.6 L621.87 98.98 L619.76 99.32 L617.58 99.64 L615.34 99.91 L613.06 100.16 L610.75 100.36 L608.43 100.53 L606.11 100.66 L603.8 100.75 L601.52 100.79 L599.28 100.8 L597.1 100.76 L594.99 100.68 L592.96 100.57 L591.03 100.41 L589.21 100.21 L587.5 99.98 L585.92 99.71 L584.48 99.4 L583.19 99.06 L582.06 98.69 L581.08 98.3 L580.28 97.87 L579.65 97.43 L579.19 96.96 L578.92 96.48 L578.83 95.98Z" fill="url(#gr)"/>
<path d="M578.83 281.55 L578.92 281.88 L579.19 282.2 L579.65 282.51 L580.28 282.8 L581.08 283.06 L582.06 283.31 L583.19 283.53 L584.48 283.73 L585.92 283.9 L587.5 284.05 L589.21 284.17 L591.03 284.25 L592.96 284.32 L594.99 284.35 L597.1 284.35 L599.28 284.32 L601.52 284.26 L603.8 284.17 L606.11 284.06 L608.43 283.92 L610.75 283.75 L613.06 283.55 L615.34 283.33 L617.58 283.09 L619.76 282.82 L621.87 282.54 L623.9 282.23 L625.83 281.91 L627.65 281.57 L629.36 281.23 L630.94 280.87 L632.38 280.5 L633.67 280.13 L634.8 279.76 L635.78 279.38 L636.58 279 L637.21 278.63 L637.67 278.26 L637.94 277.9 L638.03 277.56 L638.03 92.22 L637.94 92.73 L637.67 93.25 L637.21 93.77 L636.58 94.3 L635.78 94.83 L634.8 95.35 L633.67 95.86 L632.38 96.36 L630.94 96.85 L629.36 97.32 L627.65 97.77 L625.83 98.2 L623.9 98.6 L621.87 98.98 L619.76 99.32 L617.58 99.64 L615.34 99.91 L613.06 100.16 L610.75 100.36 L608.43 100.53 L606.11 100.66 L603.8 100.75 L601.52 100.79 L599.28 100.8 L597.1 100.76 L594.99 100.68 L592.96 100.57 L591.03 100.41 L589.21 100.21 L587.5 99.98 L585.92 99.71 L584.48 99.4 L583.19 99.06 L582.06 98.69 L581.08 98.3 L580.28 97.87 L579.65 97.43 L579.19 96.96 L578.92 96.48 L578.83 95.98Z" fill="url(#gv)"/>
<path d="M636.84 94.1 L637.46 93.49 L637.85 92.88 L638.02 92.29 L637.97 91.71 L637.69 91.14 L637.19 90.6 L636.46 90.08 L635.53 89.6 L634.39 89.15 L633.05 88.74 L631.53 88.37 L629.82 88.04 L627.96 87.76 L625.95 87.52 L623.8 87.34 L621.54 87.21 L619.17 87.13 L616.73 87.1 L614.22 87.13 L611.67 87.21 L609.09 87.34 L606.51 87.52 L603.94 87.76 L601.41 88.04 L598.93 88.37 L596.52 88.74 L594.21 89.15 L592 89.6 L589.92 90.08 L587.97 90.6 L586.19 91.14 L584.57 91.71 L583.13 92.29 L581.89 92.88 L580.85 93.49 L580.02 94.1 L579.4 94.68 L579.01 95.26 L578.84 95.83 L578.89 96.39 L579.17 96.93 L579.67 97.45 L580.4 97.94 L581.33 98.41 L582.47 98.84 L583.81 99.23 L585.33 99.59 L587.04 99.9 L588.9 100.17 L590.91 100.4 L593.06 100.57 L595.32 100.7 L597.69 100.77 L600.13 100.8 L602.64 100.77 L605.19 100.7 L607.77 100.57 L610.35 100.4 L612.92 100.17 L615.45 99.9 L617.93 99.59 L620.34 99.23 L622.65 98.84 L624.86 98.41 L626.94 97.94 L628.89 97.45 L630.67 96.93 L632.29 96.39 L633.73 95.83 L634.97 95.26 L636.01 94.68 L636.84 94.1Z" fill="url(#gtopo)"/>
<path d="M634.74 92 L635.17 91.43 L635.39 90.87 L635.41 90.32 L635.23 89.78 L634.85 89.25 L634.27 88.75 L633.5 88.27 L632.54 87.82 L631.4 87.4 L630.08 87.02 L628.61 86.68 L626.98 86.37 L625.22 86.11 L623.33 85.89 L621.33 85.72 L619.24 85.6 L617.07 85.52 L614.83 85.5 L612.55 85.52 L610.24 85.6 L607.92 85.72 L605.6 85.89 L603.32 86.11 L601.07 86.37 L598.88 86.68 L596.77 87.02 L594.75 87.4 L592.84 87.82 L591.04 88.27 L589.39 88.75 L587.88 89.25 L586.53 89.78 L585.35 90.32 L584.35 90.87 L583.54 91.43 L582.92 92 L582.49 92.57 L582.27 93.13 L582.25 93.68 L582.43 94.22 L582.81 94.75 L583.39 95.25 L584.16 95.73 L585.12 96.18 L586.26 96.6 L587.58 96.98 L589.05 97.32 L590.68 97.63 L592.44 97.89 L594.33 98.11 L596.33 98.28 L598.42 98.4 L600.59 98.48 L602.83 98.5 L605.11 98.48 L607.42 98.4 L609.74 98.28 L612.06 98.11 L614.34 97.89 L616.59 97.63 L618.78 97.32 L620.89 96.98 L622.91 96.6 L624.82 96.18 L626.62 95.73 L628.27 95.25 L629.78 94.75 L631.13 94.22 L632.31 93.68 L633.31 93.13 L634.12 92.57 L634.74 92Z" fill="url(#gtop)" filter="url(#b1)"/>
<path d="M580.62 98.07 L581.3 98.39 L582.07 98.7 L582.94 98.99 L583.9 99.26 L584.96 99.51 L586.1 99.74 L587.33 99.95 L588.64 100.14 L590.02 100.3 L591.46 100.45 L592.97 100.57 L594.54 100.66 L596.16 100.73 L597.83 100.78 L599.54 100.8 L601.27 100.79 L603.04 100.77 L604.83 100.71 L606.62 100.63 L608.43 100.53 L610.24 100.4 L612.03 100.25 L613.82 100.08 L615.59 99.89 L617.32 99.67 L619.03 99.43 L620.7 99.17 L622.32 98.9 L623.89 98.6 L625.4 98.29 L626.84 97.97 L628.22 97.63 L629.53 97.27 L630.76 96.91 L631.9 96.53 L632.96 96.14 L633.92 95.75 L634.79 95.35 L635.56 94.95 L636.24 94.54" fill="none" stroke="#f05a52" stroke-width="1.5" stroke-opacity="0.9" filter="url(#b1)"/>
<path d="M578.98 467.56 L579.27 467.98 L579.73 468.39 L580.34 468.78 L581.1 469.15 L582.01 469.5 L583.06 469.83 L584.25 470.13 L585.57 470.41 L587.01 470.65 L588.57 470.87 L590.24 471.06 L592 471.21 L593.86 471.33 L595.79 471.42 L597.79 471.48 L599.85 471.5 L601.95 471.49 L604.09 471.44 L606.26 471.36 L608.43 471.25 L610.6 471.1 L612.77 470.92 L614.91 470.71 L617.01 470.48 L619.07 470.21 L621.07 469.91 L623 469.59 L624.86 469.25 L626.62 468.88 L628.29 468.5 L629.85 468.1 L631.29 467.68 L632.61 467.24 L633.8 466.8 L634.85 466.35 L635.76 465.89 L636.52 465.43 L637.13 464.97 L637.59 464.5 L637.88 464.05" fill="none" stroke="#173c6e" stroke-width="1" stroke-opacity="0.55"/>
<path d="M579.75 466.21 L580.3 466.56 L580.96 466.89 L581.75 467.21 L582.66 467.51 L583.67 467.79 L584.8 468.05 L586.03 468.29 L587.35 468.5 L588.77 468.69 L590.27 468.86 L591.85 469 L593.51 469.11 L595.23 469.2 L597.01 469.26 L598.83 469.29 L600.7 469.3 L602.6 469.28 L604.53 469.23 L606.48 469.15 L608.43 469.05 L610.38 468.92 L612.33 468.76 L614.26 468.58 L616.16 468.38 L618.03 468.15 L619.85 467.9 L621.63 467.62 L623.35 467.33 L625.01 467.02 L626.59 466.69 L628.09 466.35 L629.51 465.99 L630.83 465.62 L632.06 465.23 L633.19 464.84 L634.2 464.44 L635.11 464.03 L635.9 463.62 L636.56 463.2 L637.11 462.78" fill="none" stroke="#4f93e6" stroke-width="1.1" stroke-opacity="0.1" filter="url(#b1)"/>
<path d="M718.31 467.37 L718.4 467.84 L718.67 468.29 L719.13 468.73 L719.76 469.15 L720.56 469.55 L721.54 469.92 L722.67 470.27 L723.96 470.58 L725.4 470.87 L726.98 471.13 L728.69 471.35 L730.51 471.53 L732.44 471.68 L734.47 471.79 L736.58 471.86 L738.76 471.9 L741 471.89 L743.28 471.85 L745.59 471.77 L747.91 471.65 L750.23 471.49 L752.54 471.3 L754.82 471.07 L757.06 470.81 L759.24 470.51 L761.35 470.19 L763.38 469.83 L765.31 469.45 L767.13 469.05 L768.84 468.63 L770.42 468.18 L771.86 467.73 L773.15 467.25 L774.28 466.77 L775.26 466.28 L776.06 465.79 L776.69 465.29 L777.15 464.8 L777.42 464.31 L777.51 463.83 L777.51 265.01 L777.42 265.36 L777.15 265.72 L776.69 266.08 L776.06 266.46 L775.26 266.83 L774.28 267.21 L773.15 267.59 L771.86 267.96 L770.42 268.32 L768.84 268.68 L767.13 269.03 L765.31 269.36 L763.38 269.69 L761.35 269.99 L759.24 270.27 L757.06 270.54 L754.82 270.78 L752.54 271 L750.23 271.2 L747.91 271.37 L745.59 271.51 L743.28 271.63 L741 271.72 L738.76 271.77 L736.58 271.8 L734.47 271.8 L732.44 271.77 L730.51 271.71 L728.69 271.62 L726.98 271.5 L725.4 271.36 L723.96 271.18 L722.67 270.99 L721.54 270.76 L720.56 270.52 L719.76 270.25 L719.13 269.96 L718.67 269.66 L718.4 269.34 L718.31 269Z" fill="url(#gb)"/>
<path d="M718.31 467.37 L718.4 467.84 L718.67 468.29 L719.13 468.73 L719.76 469.15 L720.56 469.55 L721.54 469.92 L722.67 470.27 L723.96 470.58 L725.4 470.87 L726.98 471.13 L728.69 471.35 L730.51 471.53 L732.44 471.68 L734.47 471.79 L736.58 471.86 L738.76 471.9 L741 471.89 L743.28 471.85 L745.59 471.77 L747.91 471.65 L750.23 471.49 L752.54 471.3 L754.82 471.07 L757.06 470.81 L759.24 470.51 L761.35 470.19 L763.38 469.83 L765.31 469.45 L767.13 469.05 L768.84 468.63 L770.42 468.18 L771.86 467.73 L773.15 467.25 L774.28 466.77 L775.26 466.28 L776.06 465.79 L776.69 465.29 L777.15 464.8 L777.42 464.31 L777.51 463.83 L777.51 265.01 L777.42 265.36 L777.15 265.72 L776.69 266.08 L776.06 266.46 L775.26 266.83 L774.28 267.21 L773.15 267.59 L771.86 267.96 L770.42 268.32 L768.84 268.68 L767.13 269.03 L765.31 269.36 L763.38 269.69 L761.35 269.99 L759.24 270.27 L757.06 270.54 L754.82 270.78 L752.54 271 L750.23 271.2 L747.91 271.37 L745.59 271.51 L743.28 271.63 L741 271.72 L738.76 271.77 L736.58 271.8 L734.47 271.8 L732.44 271.77 L730.51 271.71 L728.69 271.62 L726.98 271.5 L725.4 271.36 L723.96 271.18 L722.67 270.99 L721.54 270.76 L720.56 270.52 L719.76 270.25 L719.13 269.96 L718.67 269.66 L718.4 269.34 L718.31 269Z" fill="url(#gv)"/>
<ellipse cx="748.21" cy="93.3" rx="29.3" ry="8.6" fill="url(#gtopo)" transform="rotate(-4 747.91 93.3)"/>
<path d="M718.31 270.2 L718.4 270.54 L718.67 270.86 L719.13 271.16 L719.76 271.45 L720.56 271.72 L721.54 271.96 L722.67 272.19 L723.96 272.38 L725.4 272.56 L726.98 272.7 L728.69 272.82 L730.51 272.91 L732.44 272.97 L734.47 273 L736.58 273 L738.76 272.97 L741 272.92 L743.28 272.83 L745.59 272.71 L747.91 272.57 L750.23 272.4 L752.54 272.2 L754.82 271.98 L757.06 271.74 L759.24 271.47 L761.35 271.19 L763.38 270.89 L765.31 270.56 L767.13 270.23 L768.84 269.88 L770.42 269.52 L771.86 269.16 L773.15 268.79 L774.28 268.41 L775.26 268.03 L776.06 267.66 L776.69 267.28 L777.15 266.92 L777.42 266.56 L777.51 266.21 L777.51 92.22 L777.42 92.73 L777.15 93.25 L776.69 93.77 L776.06 94.3 L775.26 94.83 L774.28 95.35 L773.15 95.86 L771.86 96.36 L770.42 96.85 L768.84 97.32 L767.13 97.77 L765.31 98.2 L763.38 98.6 L761.35 98.98 L759.24 99.32 L757.06 99.64 L754.82 99.91 L752.54 100.16 L750.23 100.36 L747.91 100.53 L745.59 100.66 L743.28 100.75 L741 100.79 L738.76 100.8 L736.58 100.76 L734.47 100.68 L732.44 100.57 L730.51 100.41 L728.69 100.21 L726.98 99.98 L725.4 99.71 L723.96 99.4 L722.67 99.06 L721.54 98.69 L720.56 98.3 L719.76 97.87 L719.13 97.43 L718.67 96.96 L718.4 96.48 L718.31 95.98Z" fill="url(#gr)"/>
<path d="M718.31 270.2 L718.4 270.54 L718.67 270.86 L719.13 271.16 L719.76 271.45 L720.56 271.72 L721.54 271.96 L722.67 272.19 L723.96 272.38 L725.4 272.56 L726.98 272.7 L728.69 272.82 L730.51 272.91 L732.44 272.97 L734.47 273 L736.58 273 L738.76 272.97 L741 272.92 L743.28 272.83 L745.59 272.71 L747.91 272.57 L750.23 272.4 L752.54 272.2 L754.82 271.98 L757.06 271.74 L759.24 271.47 L761.35 271.19 L763.38 270.89 L765.31 270.56 L767.13 270.23 L768.84 269.88 L770.42 269.52 L771.86 269.16 L773.15 268.79 L774.28 268.41 L775.26 268.03 L776.06 267.66 L776.69 267.28 L777.15 266.92 L777.42 266.56 L777.51 266.21 L777.51 92.22 L777.42 92.73 L777.15 93.25 L776.69 93.77 L776.06 94.3 L775.26 94.83 L774.28 95.35 L773.15 95.86 L771.86 96.36 L770.42 96.85 L768.84 97.32 L767.13 97.77 L765.31 98.2 L763.38 98.6 L761.35 98.98 L759.24 99.32 L757.06 99.64 L754.82 99.91 L752.54 100.16 L750.23 100.36 L747.91 100.53 L745.59 100.66 L743.28 100.75 L741 100.79 L738.76 100.8 L736.58 100.76 L734.47 100.68 L732.44 100.57 L730.51 100.41 L728.69 100.21 L726.98 99.98 L725.4 99.71 L723.96 99.4 L722.67 99.06 L721.54 98.69 L720.56 98.3 L719.76 97.87 L719.13 97.43 L718.67 96.96 L718.4 96.48 L718.31 95.98Z" fill="url(#gv)"/>
<path d="M776.32 94.1 L776.94 93.49 L777.33 92.88 L777.5 92.29 L777.45 91.71 L777.17 91.14 L776.67 90.6 L775.94 90.08 L775.01 89.6 L773.87 89.15 L772.53 88.74 L771.01 88.37 L769.3 88.04 L767.44 87.76 L765.43 87.52 L763.28 87.34 L761.02 87.21 L758.65 87.13 L756.21 87.1 L753.7 87.13 L751.15 87.21 L748.57 87.34 L745.99 87.52 L743.42 87.76 L740.89 88.04 L738.41 88.37 L736 88.74 L733.69 89.15 L731.48 89.6 L729.4 90.08 L727.45 90.6 L725.67 91.14 L724.05 91.71 L722.61 92.29 L721.37 92.88 L720.33 93.49 L719.5 94.1 L718.88 94.68 L718.49 95.26 L718.32 95.83 L718.37 96.39 L718.65 96.93 L719.15 97.45 L719.88 97.94 L720.81 98.41 L721.95 98.84 L723.29 99.23 L724.81 99.59 L726.52 99.9 L728.38 100.17 L730.39 100.4 L732.54 100.57 L734.8 100.7 L737.17 100.77 L739.61 100.8 L742.12 100.77 L744.67 100.7 L747.25 100.57 L749.83 100.4 L752.4 100.17 L754.93 99.9 L757.41 99.59 L759.82 99.23 L762.13 98.84 L764.34 98.41 L766.42 97.94 L768.37 97.45 L770.15 96.93 L771.77 96.39 L773.21 95.83 L774.45 95.26 L775.49 94.68 L776.32 94.1Z" fill="url(#gtopo)"/>
<path d="M774.22 92 L774.65 91.43 L774.87 90.87 L774.89 90.32 L774.71 89.78 L774.33 89.25 L773.75 88.75 L772.98 88.27 L772.02 87.82 L770.88 87.4 L769.56 87.02 L768.09 86.68 L766.46 86.37 L764.7 86.11 L762.81 85.89 L760.81 85.72 L758.72 85.6 L756.55 85.52 L754.31 85.5 L752.03 85.52 L749.72 85.6 L747.4 85.72 L745.08 85.89 L742.8 86.11 L740.55 86.37 L738.36 86.68 L736.25 87.02 L734.23 87.4 L732.32 87.82 L730.52 88.27 L728.87 88.75 L727.36 89.25 L726.01 89.78 L724.83 90.32 L723.83 90.87 L723.02 91.43 L722.4 92 L721.97 92.57 L721.75 93.13 L721.73 93.68 L721.91 94.22 L722.29 94.75 L722.87 95.25 L723.64 95.73 L724.6 96.18 L725.74 96.6 L727.06 96.98 L728.53 97.32 L730.16 97.63 L731.92 97.89 L733.81 98.11 L735.81 98.28 L737.9 98.4 L740.07 98.48 L742.31 98.5 L744.59 98.48 L746.9 98.4 L749.22 98.28 L751.54 98.11 L753.82 97.89 L756.07 97.63 L758.26 97.32 L760.37 96.98 L762.39 96.6 L764.3 96.18 L766.1 95.73 L767.75 95.25 L769.26 94.75 L770.61 94.22 L771.79 93.68 L772.79 93.13 L773.6 92.57 L774.22 92Z" fill="url(#gtop)" filter="url(#b1)"/>
<path d="M720.1 98.07 L720.78 98.39 L721.55 98.7 L722.42 98.99 L723.38 99.26 L724.44 99.51 L725.58 99.74 L726.81 99.95 L728.12 100.14 L729.5 100.3 L730.94 100.45 L732.45 100.57 L734.02 100.66 L735.64 100.73 L737.31 100.78 L739.02 100.8 L740.75 100.79 L742.52 100.77 L744.31 100.71 L746.1 100.63 L747.91 100.53 L749.72 100.4 L751.51 100.25 L753.3 100.08 L755.07 99.89 L756.8 99.67 L758.51 99.43 L760.18 99.17 L761.8 98.9 L763.37 98.6 L764.88 98.29 L766.32 97.97 L767.7 97.63 L769.01 97.27 L770.24 96.91 L771.38 96.53 L772.44 96.14 L773.4 95.75 L774.27 95.35 L775.04 94.95 L775.72 94.54" fill="none" stroke="#f05a52" stroke-width="1.5" stroke-opacity="0.9" filter="url(#b1)"/>
<path d="M718.46 467.56 L718.75 467.98 L719.21 468.39 L719.82 468.78 L720.58 469.15 L721.49 469.5 L722.54 469.83 L723.73 470.13 L725.05 470.41 L726.49 470.65 L728.05 470.87 L729.72 471.06 L731.48 471.21 L733.34 471.33 L735.27 471.42 L737.27 471.48 L739.33 471.5 L741.43 471.49 L743.57 471.44 L745.74 471.36 L747.91 471.25 L750.08 471.1 L752.25 470.92 L754.39 470.71 L756.49 470.48 L758.55 470.21 L760.55 469.91 L762.48 469.59 L764.34 469.25 L766.1 468.88 L767.77 468.5 L769.33 468.1 L770.77 467.68 L772.09 467.24 L773.28 466.8 L774.33 466.35 L775.24 465.89 L776 465.43 L776.61 464.97 L777.07 464.5 L777.36 464.05" fill="none" stroke="#173c6e" stroke-width="1" stroke-opacity="0.55"/>
<path d="M719.23 466.21 L719.78 466.56 L720.44 466.89 L721.23 467.21 L722.14 467.51 L723.15 467.79 L724.28 468.05 L725.51 468.29 L726.83 468.5 L728.25 468.69 L729.75 468.86 L731.33 469 L732.99 469.11 L734.71 469.2 L736.49 469.26 L738.31 469.29 L740.18 469.3 L742.08 469.28 L744.01 469.23 L745.96 469.15 L747.91 469.05 L749.86 468.92 L751.81 468.76 L753.74 468.58 L755.64 468.38 L757.51 468.15 L759.33 467.9 L761.11 467.62 L762.83 467.33 L764.49 467.02 L766.07 466.69 L767.57 466.35 L768.99 465.99 L770.31 465.62 L771.54 465.23 L772.67 464.84 L773.68 464.44 L774.59 464.03 L775.38 463.62 L776.04 463.2 L776.59 462.78" fill="none" stroke="#4f93e6" stroke-width="1.1" stroke-opacity="0.1" filter="url(#b1)"/>
</g>
<g id="labels">
<text x="162.5" y="206.3" font-size="16.2" textLength="35.1" lengthAdjust="spacingAndGlyphs">9299</text>
<text x="156.3" y="393.3" font-size="16.2" textLength="47.6" lengthAdjust="spacingAndGlyphs">7652.7</text>
<text x="301.6" y="207.6" font-size="16.2" textLength="35.1" lengthAdjust="spacingAndGlyphs">7676</text>
<text x="301.6" y="395" font-size="16.2" textLength="34.4" lengthAdjust="spacingAndGlyphs">6051</text>
<text x="442" y="197" font-size="16.2" textLength="34.4" lengthAdjust="spacingAndGlyphs">1491</text>
<text x="431.3" y="385.6" font-size="16.2" textLength="56.9" lengthAdjust="spacingAndGlyphs">1467.13</text>
<text x="585.9" y="196" font-size="16.2" textLength="25.8" lengthAdjust="spacingAndGlyphs">120</text>
<text x="579.1" y="384" font-size="16.2" textLength="39.4" lengthAdjust="spacingAndGlyphs">120.9</text>
<text x="729" y="191.3" font-size="16.2" textLength="16.3" lengthAdjust="spacingAndGlyphs">12</text>
<text x="718.2" y="378" font-size="16.2" textLength="39.1" lengthAdjust="spacingAndGlyphs">13.65</text>
<text x="39.8" y="113.85" font-size="16.2" textLength="38.6" lengthAdjust="spacingAndGlyphs">100%</text>
<text x="48" y="151.3" font-size="16.2" textLength="30.4" lengthAdjust="spacingAndGlyphs">90%</text>
<text x="48" y="188.75" font-size="16.2" textLength="30.4" lengthAdjust="spacingAndGlyphs">80%</text>
<text x="48" y="226.2" font-size="16.2" textLength="30.4" lengthAdjust="spacingAndGlyphs">70%</text>
<text x="48" y="263.65" font-size="16.2" textLength="30.4" lengthAdjust="spacingAndGlyphs">60%</text>
<text x="48" y="301.1" font-size="16.2" textLength="30.4" lengthAdjust="spacingAndGlyphs">50%</text>
<text x="48" y="338.55" font-size="16.2" textLength="30.4" lengthAdjust="spacingAndGlyphs">40%</text>
<text x="48" y="376" font-size="16.2" textLength="30.4" lengthAdjust="spacingAndGlyphs">30%</text>
<text x="48" y="413.45" font-size="16.2" textLength="30.4" lengthAdjust="spacingAndGlyphs">20%</text>
<text x="48" y="450.9" font-size="16.2" textLength="30.4" lengthAdjust="spacingAndGlyphs">10%</text>
<text x="57.2" y="488.35" font-size="16.2" textLength="21.2" lengthAdjust="spacingAndGlyphs">0%</text>
<text x="132" y="517.8" font-size="16.2" textLength="68" lengthAdjust="spacingAndGlyphs">4.0 - 10.0</text>
<text x="275.2" y="517.8" font-size="16.2" textLength="58.8" lengthAdjust="spacingAndGlyphs">4.0 - 4.9</text>
<text x="415.5" y="517.8" font-size="16.2" textLength="58.8" lengthAdjust="spacingAndGlyphs">5.0 - 5.9</text>
<text x="554.4" y="517.8" font-size="16.2" textLength="58.8" lengthAdjust="spacingAndGlyphs">6.0 - 6.9</text>
<text x="689.6" y="517.8" font-size="16.2" textLength="68" lengthAdjust="spacingAndGlyphs">7.0 - 10.0</text>
</g>
<g id="legend">
<g filter="url(#b0)"><rect x="237.9" y="23.8" width="11.2" height="11.2" fill="#3f7dc6"/><path d="M249.1 23.8L249.1 35L243.5 29.4Z" fill="#3672b6"/><path d="M237.9 35L249.1 35L243.5 29.4Z" fill="#2f5f9a"/><path d="M238.5 24.4L248.5 24.4L243.5 30Z" fill="#66b2f4"/></g>
<text x="255.2" y="33.9" font-size="16.2" textLength="198.4" lengthAdjust="spacingAndGlyphs" style="white-space:pre">1973-2010 Annual  Average</text>
<g filter="url(#b0)"><rect x="485.9" y="23.8" width="11.2" height="11.2" fill="#d65252"/><path d="M497.1 23.8L497.1 35L491.5 29.4Z" fill="#c94848"/><path d="M485.9 35L497.1 35L491.5 29.4Z" fill="#b84040"/><path d="M486.5 24.4L496.5 24.4L491.5 30Z" fill="#f27676"/></g>
<text x="500.9" y="33.9" font-size="16.2" textLength="144.1" lengthAdjust="spacingAndGlyphs">Jan 1 - July 11, 2011</text>
</g>
</svg></body></html>
